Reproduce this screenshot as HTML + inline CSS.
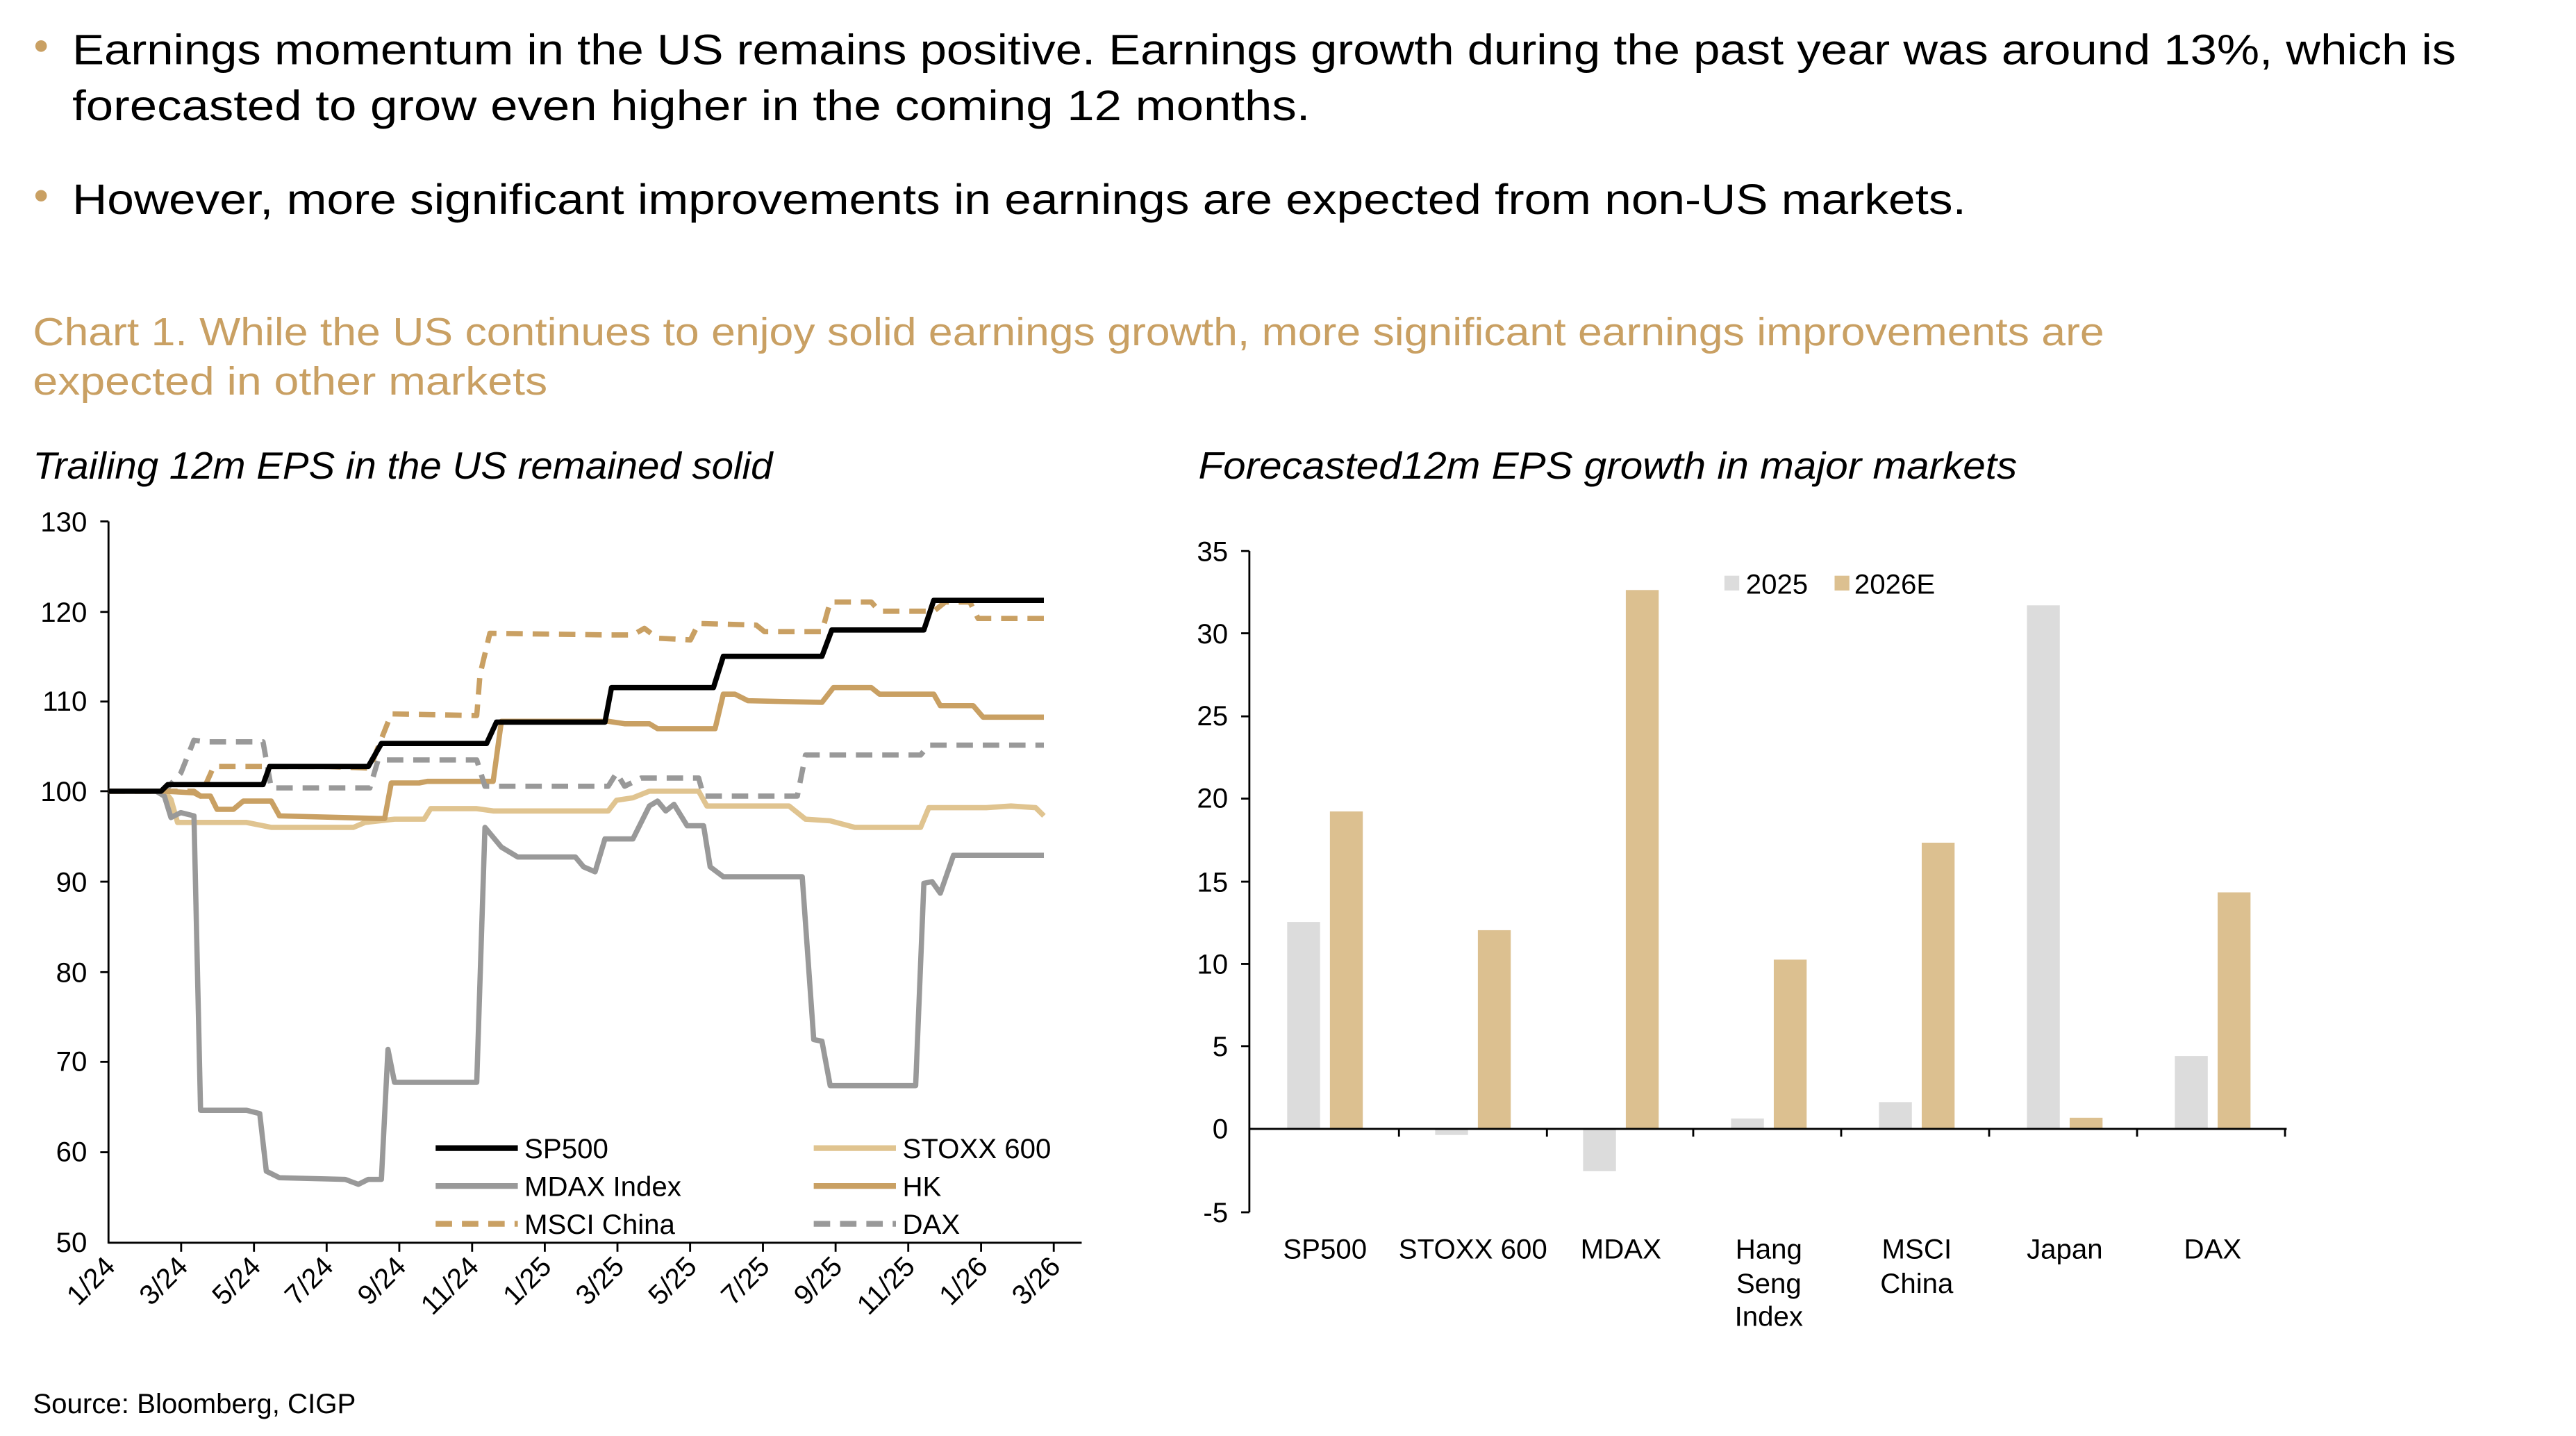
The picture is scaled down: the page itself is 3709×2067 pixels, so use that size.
<!DOCTYPE html>
<html><head><meta charset="utf-8"><style>
html,body{margin:0;padding:0;background:#fff;}
svg{display:block;}
text{font-family:"Liberation Sans",sans-serif;}
</style></head><body>
<svg width="3709" height="2067" viewBox="0 0 1567 873" preserveAspectRatio="none" xmlns="http://www.w3.org/2000/svg">
<rect width="1567" height="873" fill="#fff"/>
<circle cx="25" cy="28" r="3.5" fill="#c9a063"/>
<circle cx="25" cy="119" r="3.5" fill="#c9a063"/>
<text x="44" y="39" font-size="26" fill="#000" textLength="1450" lengthAdjust="spacingAndGlyphs">Earnings momentum in the US remains positive. Earnings growth during the past year was around 13%, which is</text>
<text x="44" y="73" font-size="26" fill="#000" textLength="753" lengthAdjust="spacingAndGlyphs">forecasted to grow even higher in the coming 12 months.</text>
<text x="44" y="130" font-size="26" fill="#000" textLength="1152" lengthAdjust="spacingAndGlyphs">However, more significant improvements in earnings are expected from non-US markets.</text>
<text x="20" y="210" font-size="24" fill="#c9a063" textLength="1260" lengthAdjust="spacingAndGlyphs">Chart 1. While the US continues to enjoy solid earnings growth, more significant earnings improvements are</text>
<text x="20" y="240" font-size="24" fill="#c9a063" textLength="313" lengthAdjust="spacingAndGlyphs">expected in other markets</text>
<text x="20" y="291" font-size="23" font-style="italic" fill="#000" textLength="450" lengthAdjust="spacingAndGlyphs">Trailing 12m EPS in the US remained solid</text>
<text x="729" y="291" font-size="23" font-style="italic" fill="#000" textLength="498" lengthAdjust="spacingAndGlyphs">Forecasted12m EPS growth in major markets</text>
<text x="20" y="859" font-size="17" fill="#000">Source: Bloomberg, CIGP</text>

<g stroke="#000" stroke-width="1.2" fill="none">
<line x1="66" y1="317" x2="66" y2="756"/>
<line x1="66" y1="755.5" x2="658" y2="755.5"/>
<line x1="61" y1="317" x2="66" y2="317"/><line x1="61" y1="372" x2="66" y2="372"/><line x1="61" y1="426.5" x2="66" y2="426.5"/><line x1="61" y1="481" x2="66" y2="481"/><line x1="61" y1="536" x2="66" y2="536"/><line x1="61" y1="591" x2="66" y2="591"/><line x1="61" y1="645.5" x2="66" y2="645.5"/><line x1="61" y1="700.5" x2="66" y2="700.5"/>
<line x1="110.2" y1="755" x2="110.2" y2="761"/><line x1="154.5" y1="755" x2="154.5" y2="761"/><line x1="198.7" y1="755" x2="198.7" y2="761"/><line x1="242.9" y1="755" x2="242.9" y2="761"/><line x1="287.2" y1="755" x2="287.2" y2="761"/><line x1="331.4" y1="755" x2="331.4" y2="761"/><line x1="375.6" y1="755" x2="375.6" y2="761"/><line x1="419.8" y1="755" x2="419.8" y2="761"/><line x1="464.1" y1="755" x2="464.1" y2="761"/><line x1="508.3" y1="755" x2="508.3" y2="761"/><line x1="552.5" y1="755" x2="552.5" y2="761"/><line x1="596.8" y1="755" x2="596.8" y2="761"/><line x1="641" y1="755" x2="641" y2="761"/>
</g>
<g font-size="17" text-anchor="end" fill="#000">
<text x="53" y="323">130</text><text x="53" y="378">120</text><text x="53" y="432">110</text><text x="53" y="487">100</text><text x="53" y="542">90</text><text x="53" y="597">80</text><text x="53" y="651">70</text><text x="53" y="706">60</text><text x="53" y="761">50</text>
</g>
<g font-size="17" text-anchor="end" fill="#000">
<text transform="translate(71,771) rotate(-45)">1/24</text>
<text transform="translate(115.2,771) rotate(-45)">3/24</text>
<text transform="translate(159.5,771) rotate(-45)">5/24</text>
<text transform="translate(203.7,771) rotate(-45)">7/24</text>
<text transform="translate(247.9,771) rotate(-45)">9/24</text>
<text transform="translate(292.2,771) rotate(-45)">11/24</text>
<text transform="translate(336.4,771) rotate(-45)">1/25</text>
<text transform="translate(380.6,771) rotate(-45)">3/25</text>
<text transform="translate(424.8,771) rotate(-45)">5/25</text>
<text transform="translate(469.1,771) rotate(-45)">7/25</text>
<text transform="translate(513.3,771) rotate(-45)">9/25</text>
<text transform="translate(557.5,771) rotate(-45)">11/25</text>
<text transform="translate(601.8,771) rotate(-45)">1/26</text>
<text transform="translate(646,771) rotate(-45)">3/26</text>
</g>

<g fill="none" stroke-width="3.2" stroke-linejoin="round">
<polyline stroke="#e0c490" points="66,481 100,481 104,486 108,500 150,500 160,502 165,503 215,503 222,500 240,498 258,498 262,491.6 290,491.6 300,493 330,493 350,493 370,493 375,486.5 385,485 395,481 425,481 430,490 480,490 490,498 505,499 520,503 560,503 565,491 600,491 615,490 630,491 635,496"/>
<polyline stroke="#c9a063" points="66,481 100,481 118,482 122,484 128,484 132,492 142,492 148,487 165,487 170,496 230,497.6 234,497.6 238,476 255,476 260,475 300,475 305,438.5 370,438.5 380,440 395,440 400,443 435,443 440,422 447,422 455,426 500,427 507,418 530,418 535,422 568,422 572,429 592,429 598,436 635,436"/>
<polyline stroke="#999999" points="66,481 95,481 100,484 104,497 110,494 118,496 122,675 150,675 158,677 162,712 170,716 210,717 218,720 224,717 232,717 236,638 240,658 290,658 295,503 305,515 315,521 350,521 355,527 362,530 368,510 385,510 395,490 400,487 405,493 410,489 418,502 428,502 432,527 440,533 488,533 495,632 500,633 505,660 557,660 562,537 567,536 572,543 580,520 635,520"/>
<polyline stroke="#999999" stroke-dasharray="10,6" points="66,481 100,481 110,470 118,450 125,451 160,451 165,479 225,479 230,462 290,462 295,478 370,478 375,470 380,478 390,473 425,473 428,484 485,484 490,459 560,459 565,453 635,453"/>
<polyline stroke="#c9a063" stroke-dasharray="10,6" points="66,481 100,481 118,481 122,484 130,466 160,466 165,466 200,466 225,467 238,434 290,435 292,410 298,385 370,386 385,386 392,382 400,388 420,389 425,379 460,380 465,384 500,384 505,366 530,366 535,371.6 568,371.6 575,366 590,366 595,376 635,376"/>
<polyline stroke="#000" points="66,481 98,481 102,477 160,477 164,466 224,466 232,452 296,452 302,439 368,439 372,418 434,418 440,399 500,399 506,383 562,383 568,365 635,365"/>
</g>
<g stroke-width="3.5">
<line x1="265" y1="698" x2="315" y2="698" stroke="#000"/>
<line x1="265" y1="721" x2="315" y2="721" stroke="#999"/>
<line x1="265" y1="744" x2="315" y2="744" stroke="#c9a063" stroke-dasharray="10,6"/>
<line x1="495" y1="698" x2="545" y2="698" stroke="#e0c490"/>
<line x1="495" y1="721" x2="545" y2="721" stroke="#c9a063"/>
<line x1="495" y1="744" x2="545" y2="744" stroke="#999" stroke-dasharray="10,6"/>
</g>
<g font-size="17" fill="#000">
<text x="319" y="704">SP500</text><text x="319" y="727">MDAX Index</text><text x="319" y="750">MSCI China</text>
<text x="549" y="704">STOXX 600</text><text x="549" y="727">HK</text><text x="549" y="750">DAX</text>
</g>

<g stroke="#000" stroke-width="1.2" fill="none">
<line x1="760" y1="335" x2="760" y2="737"/>
<line x1="755" y1="335" x2="760" y2="335"/><line x1="755" y1="385" x2="760" y2="385"/><line x1="755" y1="435.5" x2="760" y2="435.5"/><line x1="755" y1="485.5" x2="760" y2="485.5"/><line x1="755" y1="536" x2="760" y2="536"/><line x1="755" y1="586" x2="760" y2="586"/><line x1="755" y1="636" x2="760" y2="636"/><line x1="755" y1="737" x2="760" y2="737"/>
</g>
<g font-size="17" text-anchor="end" fill="#000">
<text x="747" y="341">35</text><text x="747" y="391">30</text><text x="747" y="441">25</text><text x="747" y="491">20</text><text x="747" y="542">15</text><text x="747" y="592">10</text><text x="747" y="642">5</text><text x="747" y="692">0</text><text x="747" y="743">-5</text>
</g>
<g>
<rect x="783" y="560.5" width="20" height="125.5" fill="#dcdcdc"/>
<rect x="809" y="493.3" width="20" height="192.7" fill="#dcc090"/>
<rect x="873" y="686" width="20" height="4" fill="#dcdcdc"/>
<rect x="899" y="565.5" width="20" height="120.5" fill="#dcc090"/>
<rect x="963" y="686" width="20" height="26" fill="#dcdcdc"/>
<rect x="989" y="358.7" width="20" height="327.3" fill="#dcc090"/>
<rect x="1053" y="680" width="20" height="6" fill="#dcdcdc"/>
<rect x="1079" y="583.4" width="20" height="102.6" fill="#dcc090"/>
<rect x="1143" y="670" width="20" height="16" fill="#dcdcdc"/>
<rect x="1169" y="512.3" width="20" height="173.7" fill="#dcc090"/>
<rect x="1233" y="368" width="20" height="318" fill="#dcdcdc"/>
<rect x="1259" y="679.5" width="20" height="6.5" fill="#dcc090"/>
<rect x="1323" y="642" width="20" height="44" fill="#dcdcdc"/>
<rect x="1349" y="542.5" width="20" height="143.5" fill="#dcc090"/>
</g>
<g stroke="#000" stroke-width="1.2">
<line x1="760" y1="686.3" x2="1391" y2="686.3"/>
<line x1="851" y1="686" x2="851" y2="691"/><line x1="941" y1="686" x2="941" y2="691"/><line x1="1030" y1="686" x2="1030" y2="691"/><line x1="1120" y1="686" x2="1120" y2="691"/><line x1="1210" y1="686" x2="1210" y2="691"/><line x1="1300" y1="686" x2="1300" y2="691"/><line x1="1390" y1="686" x2="1390" y2="691"/>
</g>
<rect x="1049" y="350" width="9" height="9" fill="#dcdcdc"/>
<rect x="1116" y="350" width="9" height="9" fill="#dcc090"/>
<g font-size="17" fill="#000">
<text x="1062" y="361">2025</text><text x="1128" y="361">2026E</text>
</g>
<g font-size="17" fill="#000" text-anchor="middle">
<text x="806" y="765">SP500</text>
<text x="896" y="765">STOXX 600</text>
<text x="986" y="765">MDAX</text>
<text x="1076" y="765">Hang</text><text x="1076" y="786">Seng</text><text x="1076" y="806">Index</text>
<text x="1166" y="765">MSCI</text><text x="1166" y="786">China</text>
<text x="1256" y="765">Japan</text>
<text x="1346" y="765">DAX</text>
</g>
</svg>
</body></html>
